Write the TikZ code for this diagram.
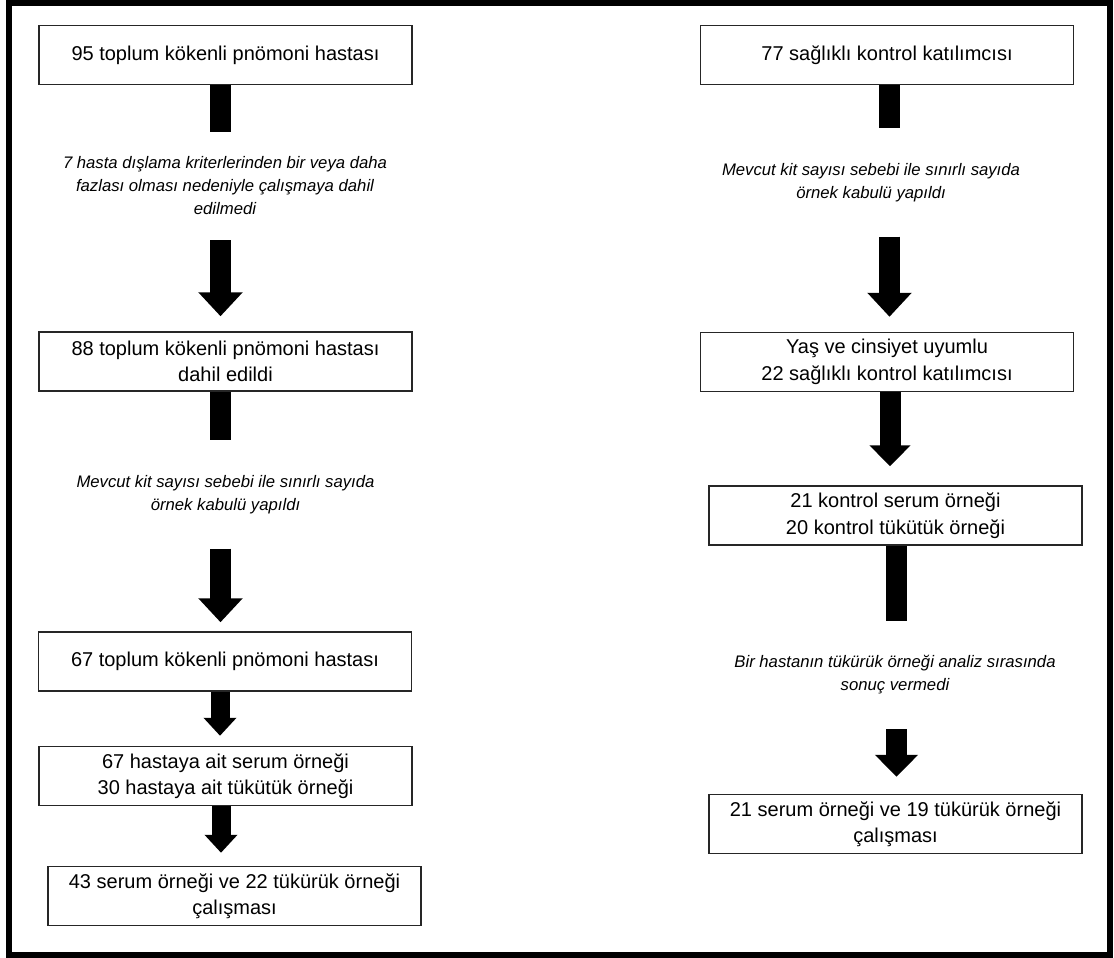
\documentclass[tikz,border=0pt]{standalone}
\usepackage{fontspec}
\setmainfont{Liberation Sans}
\usetikzlibrary{arrows.meta, positioning}

\tikzset{
  flowbox/.style={draw=black!85, line width=1.5pt, minimum width=373pt, minimum height=59pt,
    align=center, inner sep=2pt, font=\fontsize{20}{26.5}\selectfont},
  note/.style={minimum height=108pt, align=center, inner sep=0pt,
    font=\fontsize{16.7}{23}\selectfont\itshape},
  bar/.style={line width=21pt},
  bigarrow/.style={line width=21pt, -{Triangle[width=43pt, length=24pt]}},
  smallarrow/.style={line width=19pt, -{Triangle[width=32pt, length=18pt]}}
}

\begin{document}
\begin{tikzpicture}[x=1pt, y=-1pt]
    \useasboundingbox (0,0) rectangle (1114,958);
    % Outer frame
    \draw[line width=6pt] (9,3) rectangle (1110,955);

    % Patient column
    \node[flowbox] (p1) at (225.5,55) {95 toplum kökenli pnömoni hastası};
    \node[note] (n1) at (225,186) {7 hasta dışlama kriterlerinden bir veya daha\\fazlası olması nedeniyle çalışmaya dahil\\edilmedi};
    \node[flowbox] (p2) at (225.5,361.5) {88 toplum kökenli pnömoni hastası\\dahil edildi};
    \node[note] (n2) at (225.5,494.5) {Mevcut kit sayısı sebebi ile sınırlı sayıda\\örnek kabulü yapıldı};
    \node[flowbox] (p3) at (225,661.5) {67 toplum kökenli pnömoni hastası};
    \node[flowbox] (p4) at (225.5,776) {67 hastaya ait serum örneği\\30 hastaya ait tükütük örneği};
    \node[flowbox] (p5) at (234.5,896) {43 serum örneği ve 22 tükürük örneği\\çalışması};

    \draw[bar] ([xshift=-5pt]p1.south) -- ([xshift=-5pt]p1.south |- n1.north);
    \draw[bigarrow, shorten >=15pt] ([xshift=-5pt]p1.south |- n1.south) -- ([xshift=-5pt]p1.south |- p2.north);
    \draw[bar] ([xshift=-5pt]p2.south) -- ([xshift=-5pt]p2.south |- n2.north);
    \draw[bigarrow, shorten >=9pt] ([xshift=-5pt]p2.south |- n2.south) -- ([xshift=-5pt]p2.south |- p3.north);
    \draw[smallarrow, shorten >=10pt] ([xshift=-5pt]p3.south) -- ([xshift=-5pt]p3.south |- p4.north);
    \draw[smallarrow, shorten >=13pt] ([xshift=-4.5pt]p4.south) -- ([xshift=-4.5pt]p4.south |- p5.north);

    % Control column
    \node[flowbox] (c1) at (887,55) {77 sağlıklı kontrol katılımcısı};
    \node[note] (m1) at (871,182.5) {Mevcut kit sayısı sebebi ile sınırlı sayıda\\örnek kabulü yapıldı};
    \node[flowbox] (c2) at (887,362) {Yaş ve cinsiyet uyumlu\\22 sağlıklı kontrol katılımcısı};
    \node[flowbox] (c3) at (895.5,515.5) {21 kontrol serum örneği\\20 kontrol tükütük örneği};
    \node[note] (m2) at (895,675) {Bir hastanın tükürük örneği analiz sırasında\\sonuç vermedi};
    \node[flowbox] (c4) at (895.5,824) {21 serum örneği ve 19 tükürük örneği\\çalışması};

    \draw[bar] ([xshift=2.5pt]c1.south) -- ([xshift=2.5pt]c1.south |- m1.north);
    \draw[bigarrow, shorten >=15pt] ([xshift=2.5pt]c1.south |- m1.south) -- ([xshift=2.5pt]c1.south |- c2.north);
    \draw[line width=21pt, -{Triangle[width=40pt, length=21pt]}, shorten >=19pt] ([xshift=3pt]c2.south) -- ([xshift=3pt]c2.south |- c3.north);
    \draw[bar] ([xshift=1pt]c3.south) -- ([xshift=1pt]c3.south |- m2.north);
    \draw[line width=21pt, -{Triangle[width=42pt, length=22pt]}, shorten >=17pt] ([xshift=1pt]c3.south |- m2.south) -- ([xshift=1pt]c3.south |- c4.north);
\end{tikzpicture}
\end{document}
